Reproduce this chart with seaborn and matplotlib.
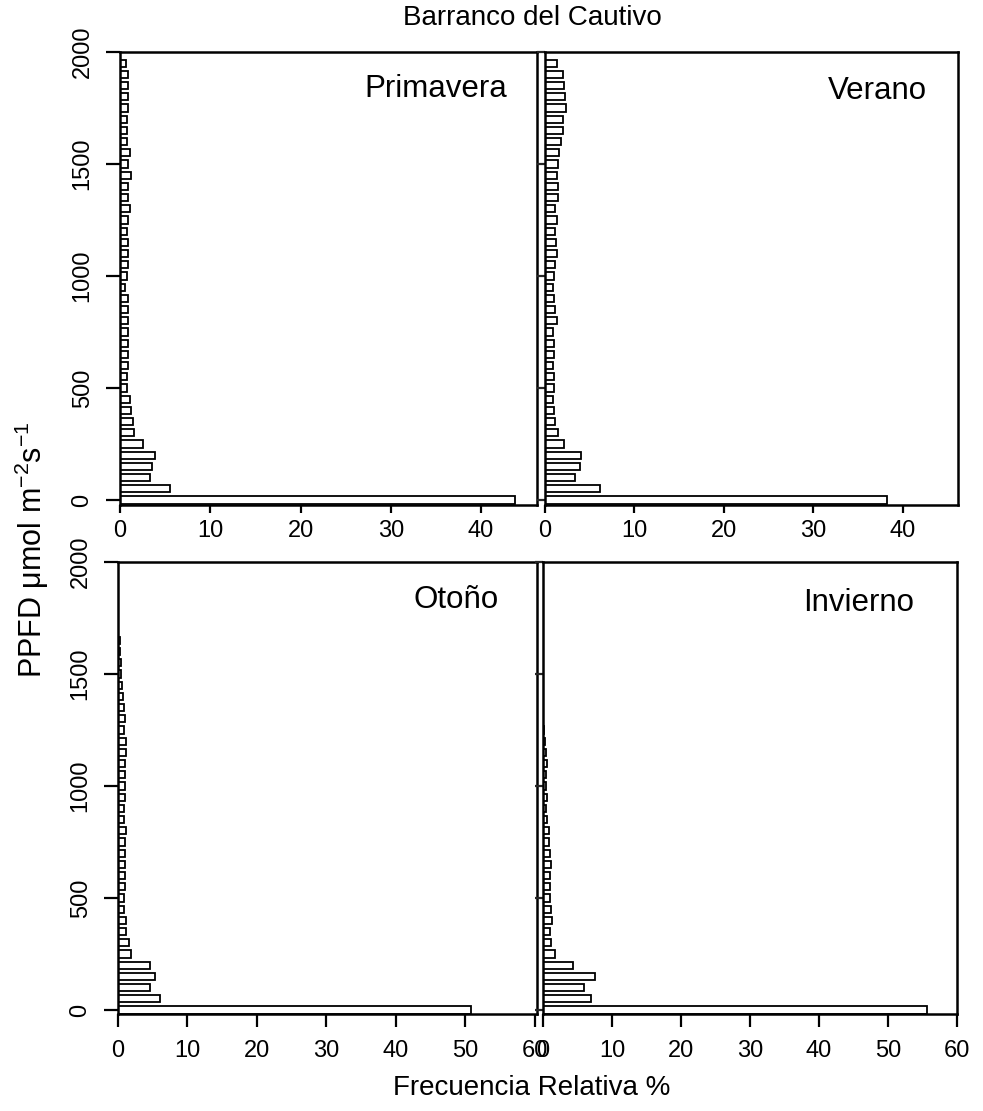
import numpy as np
import pandas as pd
import matplotlib
matplotlib.use("Agg")
import matplotlib.pyplot as plt
import seaborn as sns

# PPFD bins (lower edge, umol m-2 s-1), 50-wide bins
ppfd_bins = np.arange(0, 2000, 50)

# relative frequency (%) per bin, from 0 upwards
primavera = [43.8, 5.5, 3.3, 3.6, 3.9, 2.5, 1.6, 1.4, 1.2, 1.1,
             0.8, 0.8, 0.9, 0.9, 0.9, 0.9, 0.9, 0.9, 0.9, 0.55,
             0.75, 0.9, 0.9, 0.9, 0.8, 0.9, 1.1, 0.9, 0.9, 1.2,
             0.9, 1.1, 0.8, 0.8, 0.8, 0.9, 0.9, 0.9, 0.9, 0.67]
verano = [38.3, 6.1, 3.3, 3.9, 4.0, 2.1, 1.4, 1.15, 1.05, 0.95,
          1.05, 1.05, 0.95, 1.05, 1.05, 0.95, 1.3, 1.15, 1.05, 0.95,
          1.05, 1.15, 1.3, 1.25, 1.15, 1.3, 1.15, 1.4, 1.4, 1.3,
          1.4, 1.6, 1.8, 2.0, 2.0, 2.3, 2.2, 2.1, 2.0, 1.3]
otono = [50.8, 6.1, 4.6, 5.3, 4.6, 1.9, 1.6, 1.2, 1.1, 0.8,
         0.8, 1.0, 1.0, 1.0, 1.0, 1.0, 1.1, 0.8, 0.8, 1.0,
         1.0, 1.0, 1.0, 1.1, 1.1, 0.8, 1.0, 0.8, 0.7, 0.6,
         0.5, 0.5, 0.35, 0.25, 0, 0, 0, 0, 0, 0]
invierno = [55.6, 7.0, 5.9, 7.6, 4.4, 1.8, 1.1, 1.0, 1.35, 1.1,
            1.0, 1.0, 1.0, 1.1, 1.0, 0.9, 0.8, 0.6, 0.5, 0.6,
            0.5, 0.4, 0.6, 0.4, 0.3, 0.15, 0, 0, 0, 0,
            0, 0, 0, 0, 0, 0, 0, 0, 0, 0]

season_names = ["Primavera", "Verano", "Otoño", "Invierno"]
yticks = [0, 500, 1000, 1500, 2000]
xticks_top = [0, 10, 20, 30, 40]
xticks_bottom = [0, 10, 20, 30, 40, 50, 60]

sns.set_theme(style="white")
plt.rcParams["font.family"] = ["Liberation Sans", "DejaVu Sans"]
plt.rcParams["mathtext.fontset"] = "custom"
plt.rcParams["mathtext.rm"] = "Liberation Sans"
plt.rcParams["mathtext.it"] = "Liberation Sans:italic"

W, H = 983, 1111
fig = plt.figure(figsize=(W / 100, H / 100), dpi=100)
fig.patch.set_facecolor("white")


def px_axes(left, right, top, bottom):
    return fig.add_axes([left / W, 1 - bottom / H, (right - left) / W, (bottom - top) / H])


panels = [
    (px_axes(120, 537, 52, 505), primavera, 46.2, xticks_top, True, (-22, 1992), 5.8, 5, (0.928, 0.900)),
    (px_axes(545, 958, 52, 505), verano, 46.2, xticks_top, False, (-22, 1992), 5.8, 5, (0.925, 0.896)),
    (px_axes(118, 537, 562, 1014), otono, 60.3, xticks_bottom, True, (-18, 1992), 9.5, 9, (0.909, 0.898)),
    (px_axes(543, 957, 562, 1014), invierno, 60.0, xticks_bottom, False, (-18, 1992), 9.5, 9, (0.896, 0.892)),
]

for (ax, vals, xmax, xt, left_labels, ylim, xlen, xpad, lpos), name in zip(panels, season_names):
    df = pd.DataFrame({"ppfd": ppfd_bins, "freq": vals})
    sns.barplot(data=df, x="freq", y="ppfd", orient="h", native_scale=True,
                width=0.64, color="white", saturation=1, edgecolor="black",
                linewidth=1.3, errorbar=None, ax=ax)
    ax.set_xlim(0, xmax)
    ax.set_ylim(*ylim)
    ax.set_xticks(xt)
    ax.set_yticks(yticks)
    ax.set_xlabel("")
    ax.set_ylabel("")
    for s in ax.spines.values():
        s.set_visible(True)
        s.set_color("black")
        s.set_linewidth(1.8)
    ax.tick_params(axis="x", bottom=True, direction="out", length=xlen, width=1.6,
                   labelsize=17, pad=xpad, colors="black")
    if left_labels:
        ax.tick_params(axis="y", left=True, direction="out", length=10, width=1.6,
                       labelsize=17, pad=9, colors="black")
        ax.set_yticklabels([str(v) for v in yticks], rotation=90, va="center")
    else:
        ax.tick_params(axis="y", left=True, direction="out", length=6, width=1.6,
                       labelleft=False)
    ax.text(lpos[0], lpos[1], name, transform=ax.transAxes, ha="right",
            va="baseline", fontsize=22.5, color="black")

fig.text(532 / W, 1 - 18 / H, "Barranco del Cautivo", ha="center", va="center",
         fontsize=20, color="black")
fig.text(532 / W, 1 - 1088 / H, "Frecuencia Relativa %", ha="center", va="center",
         fontsize=20, color="black")
fig.text(32 / W, 1 - 550 / H, "PPFD μmol m$^{-2}$s$^{-1}$", ha="center", va="center",
         rotation=90, fontsize=22, color="black")

fig.savefig("out.png", dpi=100, facecolor="white")
